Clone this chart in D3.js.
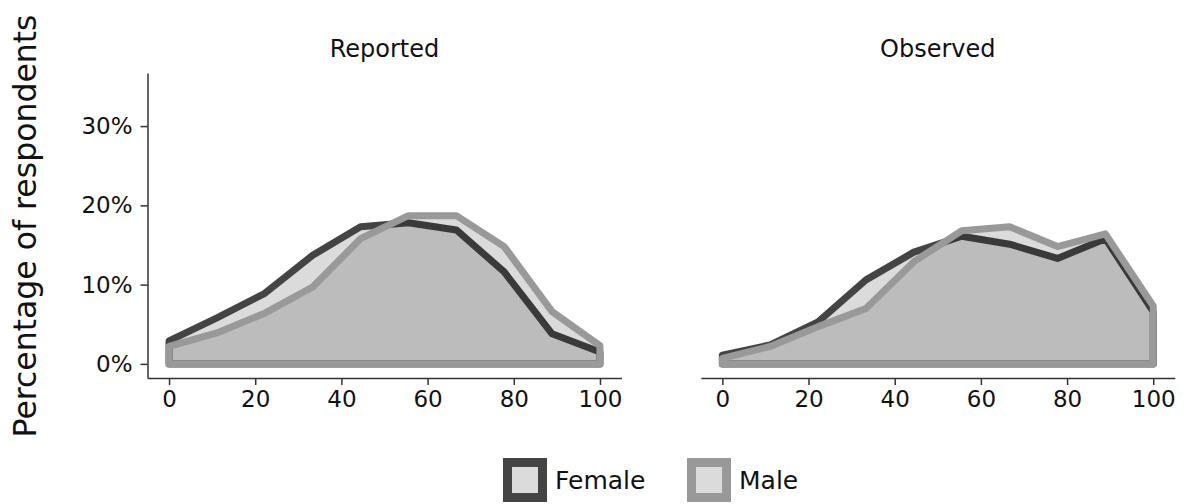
<!DOCTYPE html>
<html>
<head>
<meta charset="utf-8">
<script src="https://cdn.jsdelivr.net/npm/d3@7"></script>
<style>
  html, body { margin: 0; padding: 0; background: #fff; }
  svg { display: block; font-family: "DejaVu Sans", sans-serif; }
</style>
</head>
<body>
<svg id="chart" width="1187" height="504"></svg>
<script>
// Position along the scale (0-100), ten evenly spaced bins
const positions = [0, 11.11, 22.22, 33.33, 44.44, 55.56, 66.67, 77.78, 88.89, 100];

// Percentage of respondents in each bin
const reportedFemale = [2.9, 5.8, 8.9, 13.7, 17.3, 17.8, 16.9, 11.6, 3.8, 1.5];
const reportedMale   = [2.2, 3.9, 6.4, 9.7, 15.8, 18.7, 18.7, 14.8, 6.6, 2.3];
const observedFemale = [1.1, 2.4, 5.3, 10.6, 14.1, 16.1, 15.1, 13.3, 15.8, 6.6];
const observedMale   = [0.7, 2.2, 4.7, 7.0, 12.9, 16.8, 17.3, 14.8, 16.4, 7.3];

const panelTitles = ["Reported", "Observed"];
const seriesNames = ["Female", "Male"];
const xTicks = [0, 20, 40, 60, 80, 100];
const yTicks = [0, 10, 20, 30];

const edgeColors = { Female: "#444444", Male: "#999999" };

const panels = [
  { title: panelTitles[0], left: 147.5, right: 621.5, series: { Female: reportedFemale, Male: reportedMale }, showY: true },
  { title: panelTitles[1], left: 700.8, right: 1174.8, series: { Female: observedFemale, Male: observedMale }, showY: false }
];

const svg = d3.select("#chart");
const plotTop = 73, plotBottom = 378;
const y = d3.scaleLinear().domain([-1.78, 36.7]).range([plotBottom, plotTop]);

panels.forEach(p => {
  const x = d3.scaleLinear().domain([-5, 105]).range([p.left, p.right]);
  const g = svg.append("g");

  // each series is a closed polygon down to the zero line
  const poly = d3.line().x(d => x(d[0])).y(d => y(d[1]));
  seriesNames.forEach(name => {
    const vals = p.series[name];
    const pts = [[positions[0], 0]]
      .concat(positions.map((px, i) => [px, vals[i]]))
      .concat([[positions[positions.length - 1], 0]]);
    g.append("path")
      .attr("d", poly(pts) + "Z")
      .attr("fill", "#000")
      .attr("fill-opacity", 0.14)
      .attr("stroke", edgeColors[name])
      .attr("stroke-width", 7)
      .attr("stroke-linejoin", "round");
  });

  // x axis
  const xAxis = d3.axisBottom(x).tickValues(xTicks).tickSize(7).tickPadding(6).tickSizeOuter(0);
  const xa = g.append("g").attr("transform", `translate(0,${plotBottom})`).call(xAxis);
  xa.select(".domain").attr("stroke", "#333").attr("stroke-width", 1.5);
  xa.selectAll(".tick line").attr("stroke", "#333").attr("stroke-width", 1.5);
  xa.selectAll(".tick text").attr("font-size", 23).attr("fill", "#111")
    .attr("font-family", "DejaVu Sans");

  if (p.showY) {
    const yAxis = d3.axisLeft(y).tickValues(yTicks).tickFormat(d => d + "%")
      .tickSize(7).tickPadding(8).tickSizeOuter(0);
    const ya = g.append("g").attr("transform", `translate(${p.left},0)`).call(yAxis);
    ya.select(".domain").attr("stroke", "#333").attr("stroke-width", 1.5);
    ya.selectAll(".tick line").attr("stroke", "#333").attr("stroke-width", 1.5);
    ya.selectAll(".tick text").attr("font-size", 23).attr("fill", "#111")
      .attr("font-family", "DejaVu Sans");
  }

  g.append("text")
    .attr("x", (p.left + p.right) / 2)
    .attr("y", 57)
    .attr("text-anchor", "middle")
    .attr("font-size", 24)
    .attr("fill", "#111")
    .text(p.title);
});

// y axis label
svg.append("text")
  .attr("transform", "translate(36,226) rotate(-90)")
  .attr("text-anchor", "middle")
  .attr("font-size", 31.5)
  .attr("fill", "#111")
  .text("Percentage of respondents");

// legend
const legendItems = [
  { name: seriesNames[0], box: 507.5, label: 555 },
  { name: seriesNames[1], box: 691.5, label: 739 }
];
legendItems.forEach(it => {
  svg.append("rect")
    .attr("x", it.box).attr("y", 462.5)
    .attr("width", 35).attr("height", 35)
    .attr("fill", "#000").attr("fill-opacity", 0.14)
    .attr("stroke", edgeColors[it.name]).attr("stroke-width", 9);
  svg.append("text")
    .attr("x", it.label).attr("y", 489)
    .attr("font-size", 25)
    .attr("fill", "#111")
    .text(it.name);
});
</script>
</body>
</html>
